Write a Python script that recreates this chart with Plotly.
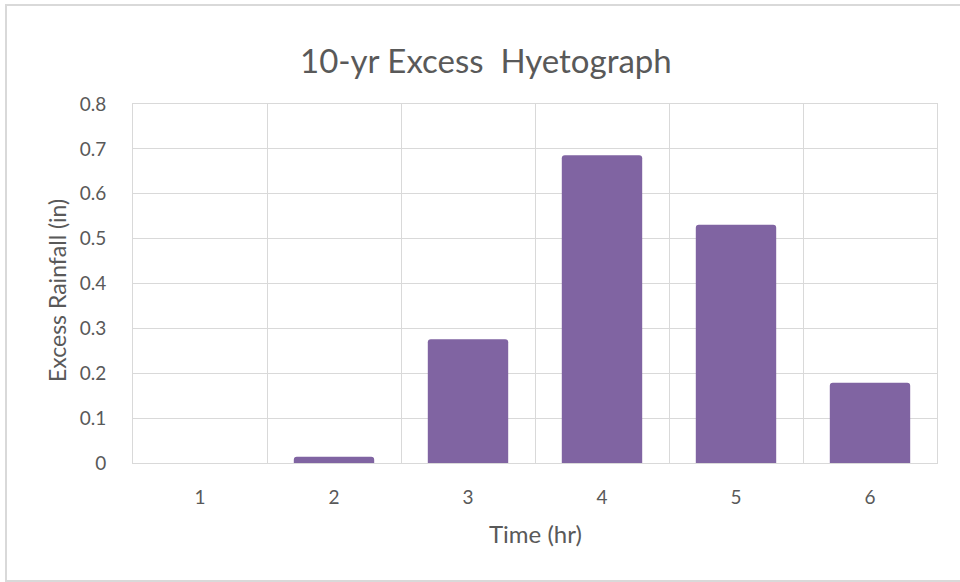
import plotly.graph_objects as go

time_hr = ["1", "2", "3", "4", "5", "6"]
excess_rainfall = [0.0, 0.014, 0.276, 0.686, 0.531, 0.179]
y_ticks = [0, 0.1, 0.2, 0.3, 0.4, 0.5, 0.6, 0.7, 0.8]
y_tick_text = ["0", "0.1", "0.2", "0.3", "0.4", "0.5", "0.6", "0.7", "0.8"]

FONT = "Lato"
TXT = "#595959"
GRID = "#D9D9D9"

W, H = 960, 582
# target plot area in screen pixels: x 133..937, y 104..463
L, R, T, B = 133, 960 - 937, 104, 582 - 463
pw, ph = W - L - R, H - T - B

def px_x(x):
    return (x - L) / pw

def px_y(y):
    return (H - B - y) / ph

fig = go.Figure(go.Bar(
    x=time_hr, y=excess_rainfall,
    marker=dict(color="#8064A2", line=dict(width=0)),
))

fig.update_layout(
    width=W, height=H,
    margin=dict(l=L, r=R, t=T, b=B, pad=0),
    paper_bgcolor="white", plot_bgcolor="white",
    bargap=0.4, barcornerradius=3,
    showlegend=False,
    font=dict(family=FONT, color=TXT),
    xaxis=dict(
        type="category", tickson="boundaries",
        showgrid=True, gridcolor=GRID, gridwidth=1,
        showline=True, linecolor=GRID, linewidth=1, mirror=True,
        ticks="", ticklabelstandoff=17,
        tickfont=dict(size=19, color=TXT, family=FONT),
        zeroline=False,
    ),
    yaxis=dict(
        range=[0, 0.8], tickvals=y_ticks, ticktext=y_tick_text,
        showgrid=True, gridcolor=GRID, gridwidth=1,
        showline=True, linecolor=GRID, linewidth=1, mirror=True,
        ticks="", ticklabelstandoff=22,
        tickfont=dict(size=19, color=TXT, family=FONT),
        zeroline=False,
    ),
    annotations=[
        dict(text="10-yr Excess  Hyetograph", xref="paper", yref="paper",
             x=px_x(486), y=px_y(60), xanchor="center", yanchor="middle",
             showarrow=False, font=dict(size=33, color=TXT, family=FONT)),
        dict(text="Excess Rainfall (in)", xref="paper", yref="paper",
             x=px_x(57), y=px_y(291), xanchor="center", yanchor="middle",
             textangle=-90, showarrow=False,
             font=dict(size=23, color=TXT, family=FONT)),
        dict(text="Time (hr)", xref="paper", yref="paper",
             x=px_x(535), y=px_y(533), xanchor="center", yanchor="middle",
             showarrow=False, font=dict(size=24, color=TXT, family=FONT)),
    ],
    shapes=[
        dict(type="line", xref="paper", yref="paper",
             x0=px_x(5), x1=px_x(962), y0=px_y(5), y1=px_y(5),
             line=dict(color=GRID, width=2)),
        dict(type="line", xref="paper", yref="paper",
             x0=px_x(6), x1=px_x(6), y0=px_y(4), y1=px_y(581),
             line=dict(color=GRID, width=2)),
        dict(type="line", xref="paper", yref="paper",
             x0=px_x(5), x1=px_x(962), y0=px_y(581), y1=px_y(581),
             line=dict(color=GRID, width=2)),
    ],
)

fig.write_html(
    "out.html",
    config={"displayModeBar": False},
    post_script="document.body.style.margin='0';document.body.style.overflow='hidden';",
)
